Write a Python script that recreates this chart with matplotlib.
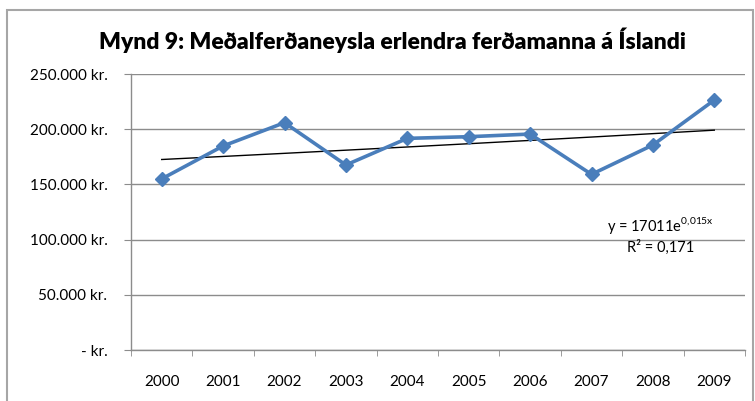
import numpy as np
import matplotlib.pyplot as plt
from matplotlib.patches import Rectangle

# data
years = ["2000", "2001", "2002", "2003", "2004", "2005", "2006", "2007", "2008", "2009"]
spend = [155000, 184800, 205900, 167600, 191700, 193200, 195600, 159100, 185700, 226400]
y_ticks = [0, 50000, 100000, 150000, 200000, 250000]
y_labels = ["- kr.", "50.000 kr.", "100.000 kr.", "150.000 kr.", "200.000 kr.", "250.000 kr."]

plt.rcParams["font.family"] = ["Lato", "DejaVu Sans"]

fig = plt.figure(figsize=(7.55, 4.01), dpi=100)
W, H = 755, 401
ax = fig.add_axes([131 / W, 1 - 350 / H, (745 - 131) / W, (350 - 74) / H])

# outer chart border
fig.patches.append(Rectangle((7 / W, -0.05), (753 - 7) / W, 1 - 10 / H + 0.05,
                             transform=fig.transFigure, fill=False,
                             edgecolor="#a6a6a6", linewidth=1.5))

x = np.arange(len(years))
ax.plot(x, spend, color="#4a7ebb", linewidth=2.6, marker="D", markersize=7.5,
        markerfacecolor="#4a7ebb", markeredgecolor="#4a7ebb", zorder=3)

# exponential trend line
coef = np.polyfit(x + 1, np.log(spend), 1)
trend = np.exp(coef[1]) * np.exp(coef[0] * (x + 1))
ax.plot(x, trend, color="black", linewidth=1.0, zorder=2)

ax.set_xlim(-0.5, len(years) - 0.5)
ax.set_ylim(0, 250000)
ax.set_yticks(y_ticks)
ax.set_yticklabels(y_labels)
ax.set_xticks(x)
ax.set_xticklabels(years)
ax.set_xticks(np.arange(-0.5, len(years)), minor=True)
ax.yaxis.grid(True, color="#8c8c8c", linewidth=1.0)
ax.set_axisbelow(True)

for s in ["top", "right"]:
    ax.spines[s].set_visible(False)
for s in ["left", "bottom"]:
    ax.spines[s].set_color("#8c8c8c")
    ax.spines[s].set_linewidth(1.0)

ax.tick_params(axis="y", length=5, color="#8c8c8c", labelsize=11, pad=12)
ax.tick_params(axis="x", which="major", length=0, labelsize=11, pad=18)
ax.tick_params(axis="x", which="minor", length=4, color="#8c8c8c")

fig.text(392 / W, 1 - 40 / H, "Mynd 9: Meðalferðaneysla erlendra ferðamanna á Íslandi",
         ha="center", va="center", fontsize=16.5, fontweight="heavy")

fig.text(660 / W, 1 - 226 / H, r"y = 17011e$^{\mathregular{0{,}015x}}$",
         ha="center", va="center", fontsize=10.5)
fig.text(661 / W, 1 - 247 / H, "R² = 0,171", ha="center", va="center", fontsize=10.5)

fig.savefig("out.png", dpi=100)
